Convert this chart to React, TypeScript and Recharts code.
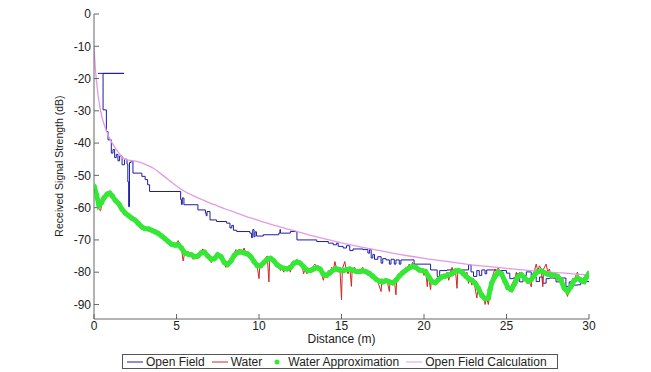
import { LineChart, Line, XAxis, YAxis, Legend, Label } from 'recharts';

// distance (m), signal (dB) pairs
const openField: [number, number][] = [
  [0.24, -18.4], [1.82, -18.4], [0.55, -29.7], [0.75, -36.4], [0.85, -39], [1.05, -43.1],
  [1.15, -42], [1.25, -44.5], [1.35, -43.5], [1.45, -45.5], [1.55, -44], [1.7, -46.7],
  [1.85, -45], [2.0, -46.5], [2.05, -52], [2.1, -59.7], [2.15, -46], [2.25, -45.5],
  [2.36, -49.3], [2.9, -50.3], [3.1, -51.3], [3.25, -52.9], [3.37, -55], [5.25, -57.5],
  [5.3, -59], [5.35, -57], [5.45, -59.1], [6.3, -60.7], [6.75, -61.7], [6.8, -62.5],
  [6.85, -61.2], [7.03, -63.8], [7.43, -64.3], [8.04, -64.8], [8.24, -66.3], [8.35, -65.5],
  [8.45, -67], [8.65, -67.4], [9.45, -67.9], [9.55, -69.3], [9.62, -66.8], [9.7, -69],
  [9.76, -67.5], [9.85, -68.8], [10.26, -68.4], [11.2, -67.9], [11.27, -66.8], [11.3, -67.9],
  [11.9, -67.4], [12.3, -70], [13.5, -70.5], [14.2, -71], [14.5, -71.5], [14.7, -71],
  [14.8, -72], [15.1, -72.5], [15.3, -71.8], [15.5, -73.3], [15.7, -72.8], [16.3, -73],
  [16.6, -74.1], [16.7, -73], [16.8, -75.6], [16.9, -74.5], [17.0, -76], [17.2, -75.2],
  [17.4, -77.2], [17.5, -75.8], [17.7, -76.2], [17.9, -77.5], [18.0, -76], [18.2, -77.5],
  [18.3, -76.2], [18.5, -77.5], [18.6, -76.2], [19.15, -76.2], [19.4, -77.5], [20.4, -79.3],
  [20.8, -81.3], [20.95, -79.5], [21.4, -79.3], [22.6, -79.3], [22.7, -77.7], [22.85, -79.9],
  [23.0, -81.3], [23.2, -79.5], [23.35, -81], [23.5, -79.3], [23.7, -80.5], [23.8, -79.3],
  [24.2, -79.3], [24.4, -81], [24.5, -79.5], [25.0, -80.3], [25.2, -82], [25.4, -81.8],
  [25.6, -80.5], [25.8, -83], [26.0, -81], [26.2, -79.9], [26.5, -81.5], [26.8, -82.9],
  [27.0, -81.5], [27.2, -83.4], [27.4, -82], [27.6, -81.8], [28.0, -83], [28.3, -81.8],
  [28.6, -84.4], [28.8, -83], [29.0, -84], [29.3, -83.9], [29.5, -82.5], [29.8, -82.9],
  [30, -82.9],
];

const water: [number, number][] = [
  [0, -53], [0.1, -55], [0.2, -58], [0.3, -60.5], [0.4, -61], [0.5, -58], [0.6, -57],
  [0.8, -55.5], [1.0, -55], [1.2, -57], [1.4, -58.5], [1.6, -59.5], [1.8, -61.5], [2.0, -62],
  [2.2, -62.5], [2.4, -63.5], [2.6, -64.5], [2.8, -65.5], [3.0, -66], [3.2, -66.2],
  [3.4, -66.8], [3.6, -67], [3.8, -67.8], [4.0, -68.5], [4.2, -69], [4.4, -69.8], [4.6, -70.5],
  [4.8, -72], [4.9, -71], [5.0, -71.2], [5.1, -70.2], [5.2, -72], [5.3, -72.5], [5.4, -76.5],
  [5.5, -74], [5.6, -75], [5.7, -73.5], [5.8, -74.8], [5.9, -74], [6.0, -76], [6.1, -75],
  [6.2, -75.8], [6.35, -74.5], [6.5, -73.5], [6.6, -72.8], [6.7, -74], [6.8, -73.5],
  [6.9, -75.5], [7.0, -76], [7.1, -77], [7.2, -75.5], [7.35, -76], [7.5, -74], [7.6, -74.5],
  [7.75, -75], [7.9, -77.5], [8.0, -78.5], [8.1, -77.5], [8.2, -76.5], [8.35, -75.5],
  [8.5, -74], [8.6, -73], [8.7, -74], [8.8, -72.8], [8.9, -74], [9.0, -73.5], [9.1, -72.5],
  [9.2, -75], [9.3, -74], [9.4, -75], [9.5, -74.5], [9.6, -76], [9.7, -77.5], [9.8, -77],
  [9.9, -78.5], [10.0, -82], [10.05, -78], [10.2, -77.5], [10.3, -76.5], [10.4, -75.5],
  [10.5, -75], [10.6, -83], [10.65, -76], [10.8, -75.5], [10.9, -76.5], [11.0, -77],
  [11.1, -78], [11.2, -77.5], [11.3, -79.5], [11.4, -78.5], [11.5, -80], [11.6, -78.5],
  [11.7, -79.5], [11.8, -78], [11.9, -80], [12.0, -77], [12.1, -76.5], [12.2, -77.5],
  [12.3, -76], [12.4, -77], [12.5, -78], [12.6, -77.2], [12.7, -80.5], [12.8, -79],
  [12.9, -80.5], [13.0, -79], [13.1, -78.8], [13.2, -80], [13.3, -78], [13.4, -77.5],
  [13.5, -79], [13.6, -78], [13.7, -80], [13.8, -80.5], [13.9, -82.5], [14.0, -80.5],
  [14.1, -81.5], [14.2, -79.5], [14.3, -80.5], [14.4, -78.5], [14.5, -79.5], [14.6, -76.7],
  [14.7, -79], [14.8, -80], [14.9, -78.5], [15.0, -88.5], [15.05, -79], [15.2, -76.7],
  [15.3, -79.5], [15.4, -80.5], [15.5, -78.5], [15.6, -84.4], [15.65, -79], [15.8, -78.5],
  [15.9, -80], [16.0, -79], [16.1, -80.5], [16.2, -79], [16.3, -78.5], [16.4, -80],
  [16.5, -79.5], [16.6, -81], [16.7, -80], [16.8, -81.5], [16.9, -80.5], [17.0, -82],
  [17.1, -81.5], [17.2, -83], [17.4, -86], [17.45, -82], [17.6, -83.5], [17.7, -82],
  [17.8, -83.5], [17.9, -86], [17.95, -82.5], [18.1, -84], [18.2, -82.5], [18.3, -87],
  [18.35, -82], [18.5, -80.5], [18.6, -81.5], [18.7, -79.3], [18.8, -80], [18.9, -78.5],
  [19.0, -79], [19.1, -77.5], [19.2, -78.5], [19.3, -77], [19.45, -78.5], [19.6, -79],
  [19.7, -78.5], [19.8, -80], [19.9, -79], [20.0, -81], [20.1, -79.5], [20.2, -84.5],
  [20.25, -80.5], [20.4, -85.4], [20.45, -82], [20.6, -83], [20.7, -84], [20.8, -82],
  [20.9, -83], [21.0, -81], [21.1, -82], [21.2, -80.5], [21.3, -81.5], [21.4, -80],
  [21.5, -82.5], [21.6, -80], [21.7, -78.5], [21.8, -80], [21.9, -79], [22.0, -85],
  [22.05, -80], [22.2, -79], [22.3, -81], [22.4, -79.5], [22.5, -82], [22.6, -80],
  [22.7, -83.5], [22.8, -81.5], [22.9, -84], [23.0, -82], [23.1, -85], [23.2, -88],
  [23.3, -84], [23.4, -86], [23.5, -87.5], [23.6, -86.5], [23.7, -90], [23.8, -88],
  [23.9, -90], [24.0, -86], [24.1, -82], [24.2, -80.5], [24.3, -79], [24.4, -80],
  [24.5, -78.5], [24.6, -80], [24.7, -79.5], [24.8, -82], [24.9, -83], [25.0, -85.5],
  [25.1, -83.5], [25.2, -86], [25.3, -84], [25.4, -83], [25.5, -82], [25.6, -80],
  [25.7, -81.5], [25.8, -80], [25.9, -81], [26.0, -82], [26.1, -81], [26.2, -83], [26.3, -82],
  [26.5, -84.5], [26.55, -81], [26.7, -79.5], [26.8, -77.5], [26.9, -79.5], [27.0, -78],
  [27.1, -79], [27.2, -84.5], [27.25, -79], [27.4, -77.5], [27.5, -80], [27.6, -79],
  [27.7, -81], [27.8, -80], [27.9, -82], [28.0, -80.5], [28.1, -82.5], [28.2, -81],
  [28.3, -83], [28.4, -82], [28.5, -84.5], [28.6, -86], [28.7, -87.5], [28.8, -85],
  [28.9, -84], [29.0, -82], [29.1, -83.5], [29.2, -81], [29.3, -80], [29.4, -82],
  [29.5, -81.5], [29.6, -83.5], [29.7, -81.5], [29.8, -82.5], [29.9, -80.5], [30, -81],
];

const waterApprox: [number, number][] = [
  [0, -53.3], [0.15, -56], [0.3, -59.3], [0.45, -58.5], [0.6, -57], [0.8, -55.8], [0.95, -55.5],
  [1.1, -56.3], [1.3, -57.8], [1.5, -58.8], [1.7, -60.5], [1.9, -61.7], [2.1, -62.5],
  [2.3, -63.3], [2.5, -63.9], [2.7, -65], [2.9, -66], [3.1, -66.5], [3.3, -66.6], [3.5, -67],
  [3.7, -67.5], [3.9, -68], [4.1, -68.8], [4.3, -69.6], [4.5, -70.5], [4.7, -71.3],
  [4.9, -71.6], [5.1, -71.4], [5.3, -72.5], [5.5, -74], [5.7, -74.4], [5.9, -74.6],
  [6.1, -75.2], [6.3, -75], [6.5, -74], [6.7, -73.8], [6.9, -75], [7.1, -76], [7.3, -75.8],
  [7.5, -74.6], [7.7, -75.2], [7.9, -77], [8.1, -77.6], [8.3, -76.5], [8.5, -74.8],
  [8.7, -73.9], [8.9, -73.7], [9.1, -74], [9.3, -74.3], [9.5, -75.2], [9.7, -76.7], [9.9, -78],
  [10.1, -78], [10.3, -77], [10.5, -76], [10.7, -75.7], [10.9, -76.5], [11.1, -77.7],
  [11.3, -78.4], [11.5, -78.8], [11.7, -79], [11.9, -78.6], [12.1, -77.3], [12.3, -76.8],
  [12.5, -77.2], [12.7, -78.3], [12.9, -79.3], [13.1, -79.5], [13.3, -79], [13.5, -78.6],
  [13.7, -79], [13.9, -80.6], [14.1, -81], [14.3, -80.2], [14.5, -79.3], [14.7, -79],
  [14.9, -79.3], [15.1, -79.5], [15.3, -79.2], [15.5, -79], [15.7, -79.4], [15.9, -79.8],
  [16.1, -79.8], [16.3, -79.6], [16.5, -79.9], [16.7, -80.4], [16.9, -81.3], [17.1, -82.2],
  [17.3, -82.8], [17.5, -83], [17.7, -82.6], [17.9, -83], [18.1, -83.3], [18.3, -82.5],
  [18.5, -81.2], [18.7, -80.2], [18.9, -79.4], [19.1, -78.7], [19.3, -78.2], [19.5, -78.5],
  [19.7, -79.3], [19.9, -79.5], [20.1, -79.8], [20.3, -81.5], [20.5, -83], [20.7, -83.2],
  [20.9, -82.2], [21.1, -81.4], [21.3, -81.2], [21.5, -80.8], [21.7, -80.5], [21.9, -79.6],
  [22.1, -79.5], [22.3, -80], [22.5, -81], [22.7, -82], [22.9, -82.5], [23.1, -83.4],
  [23.3, -85], [23.5, -87.2], [23.7, -88.2], [23.9, -88], [24.0, -85.5], [24.1, -83.4],
  [24.3, -81.3], [24.5, -80], [24.7, -80.5], [24.9, -82.8], [25.1, -84.8], [25.3, -85.4],
  [25.5, -83.5], [25.7, -81.3], [25.9, -80.8], [26.1, -81.8], [26.3, -82.8], [26.5, -82.3],
  [26.7, -80.8], [26.9, -79.8], [27.1, -79.6], [27.3, -80.2], [27.5, -80.6], [27.7, -80.8],
  [27.9, -81], [28.1, -81.3], [28.3, -82.5], [28.5, -85], [28.7, -86], [28.9, -84.5],
  [29.1, -82.6], [29.3, -81.8], [29.5, -82.5], [29.7, -82.9], [29.85, -81.5], [30, -80.3],
];

const openFieldCalc: [number, number][] = [
  [0, -10], [0.1, -18], [0.2, -23], [0.3, -27], [0.4, -30], [0.5, -32.3], [0.7, -35.5],
  [0.9, -38], [1.2, -40.8], [1.5, -43], [1.8, -44.8], [2.1, -45.3], [2.5, -45.6], [2.8, -46],
  [3.2, -46.8], [3.6, -47.8], [4.0, -49.3], [4.5, -51.3], [5.0, -53.3], [5.5, -55], [6, -56.3],
  [6.5, -57.4], [7, -58.5], [7.5, -59.5], [8, -60.5], [8.5, -61.4], [9, -62.3], [9.5, -63.2],
  [10, -64], [11, -65.6], [12, -67], [13, -68.4], [14, -69.7], [15, -70.9], [16, -72],
  [17, -73], [18, -74], [19, -74.9], [20, -75.7], [21, -76.4], [22, -77.1], [23, -77.8],
  [24, -78.3], [25, -78.8], [26, -79.3], [27, -79.7], [28, -80.1], [29, -80.5], [30, -80.8],
];

const seriesNames = ['Open Field', 'Water', 'Water Approximation', 'Open Field Calculation'];
const xTicks = [0, 5, 10, 15, 20, 25, 30];
const yTicks = [-90, -80, -70, -60, -50, -40, -30, -20, -10, 0];

const toPts = (arr: [number, number][]) => arr.map(([x, y]) => ({ x, y }));

const FONT = '"Liberation Sans", Arial, sans-serif';
const AXIS = '#666';
const GREEN = '#35e835';

function LegendBox({ payload }: any) {
  // keep the plotting order instead of recharts' alphabetical sort
  const items = [...(payload || [])].sort(
    (a: any, b: any) => seriesNames.indexOf(a.value) - seriesNames.indexOf(b.value)
  );
  return (
    <div style={{ height: 18 }}>
      <div
        style={{
          height: 15,
          boxSizing: 'border-box',
          border: '1px solid #555',
          display: 'flex',
          alignItems: 'center',
          fontFamily: FONT,
          fontSize: 12,
          color: '#222',
          paddingLeft: 3,
          whiteSpace: 'nowrap',
          overflow: 'visible',
        }}
      >
        {items.map((p: any) => (
          <div
            key={p.value}
            style={{ display: 'flex', alignItems: 'center', marginRight: 6, flexShrink: 0 }}
          >
            <svg width={18} height={10} style={{ marginRight: 2, flexShrink: 0 }}>
              {p.type === 'circle' ? (
                <circle cx={9} cy={5} r={2.5} fill={p.color} />
              ) : (
                <line x1={1} y1={5} x2={17} y2={5} stroke={p.color} strokeWidth={1} />
              )}
            </svg>
            <span style={{ whiteSpace: 'nowrap' }}>{p.value}</span>
          </div>
        ))}
      </div>
    </div>
  );
}

export default function App() {
  return (
    <div style={{ position: 'absolute', left: 0, top: 0, background: '#fff' }}>
      <LineChart width={651} height={372} margin={{ top: 14, right: 62, left: 0, bottom: 0 }}>
        <XAxis
          xAxisId="b"
          type="number"
          dataKey="x"
          domain={[0, 30]}
          ticks={xTicks}
          allowDataOverflow
          height={35}
          tickSize={-5}
          tickMargin={7}
          stroke={AXIS}
          tick={{ fill: '#222', fontSize: 12, fontFamily: FONT }}
        >
          <Label
            value="Distance (m)"
            position="insideBottom"
            offset={11}
            style={{ fill: '#222', fontSize: 12, fontFamily: FONT }}
          />
        </XAxis>
        <XAxis
          xAxisId="t"
          orientation="top"
          type="number"
          dataKey="x"
          domain={[0, 30]}
          ticks={xTicks}
          allowDataOverflow
          height={0}
          tickSize={-5}
          stroke={AXIS}
          tickFormatter={() => ''}
        />
        <YAxis
          yAxisId="l"
          type="number"
          domain={[-94.5, 0]}
          ticks={yTicks}
          allowDataOverflow
          width={94}
          tickSize={-5}
          tickMargin={8}
          stroke={AXIS}
          tick={{ fill: '#222', fontSize: 12, fontFamily: FONT }}
        >
          <Label
            content={() => (
              <text
                x={59}
                y={166}
                transform="rotate(-90 59 166)"
                textAnchor="middle"
                dominantBaseline="central"
                style={{ fill: '#222', fontSize: 10.5, fontFamily: FONT }}
              >
                Received Signal Strength (dB)
              </text>
            )}
          />
        </YAxis>
        <YAxis
          yAxisId="r"
          orientation="right"
          type="number"
          domain={[-94.5, 0]}
          ticks={yTicks}
          allowDataOverflow
          width={0}
          tickSize={-5}
          stroke={AXIS}
          tickFormatter={() => ''}
        />
        <Legend
          verticalAlign="bottom"
          content={<LegendBox />}
          wrapperStyle={{ left: 122, width: 436, bottom: 0 }}
        />
        <Line
          xAxisId="b"
          yAxisId="l"
          data={toPts(openField)}
          dataKey="y"
          name={seriesNames[0]}
          type="stepAfter"
          stroke="#1c1ca8"
          strokeWidth={1}
          dot={false}
          legendType="line"
          isAnimationActive={false}
        />
        <Line
          xAxisId="b"
          yAxisId="l"
          data={toPts(water)}
          dataKey="y"
          name={seriesNames[1]}
          type="linear"
          stroke="#d22626"
          strokeWidth={1}
          dot={false}
          legendType="line"
          isAnimationActive={false}
        />
        <Line
          xAxisId="b"
          yAxisId="l"
          data={toPts(waterApprox)}
          dataKey="y"
          name={seriesNames[2]}
          type="linear"
          stroke={GREEN}
          strokeWidth={5}
          dot={{ r: 2.2, fill: GREEN, stroke: GREEN, strokeWidth: 1 }}
          legendType="circle"
          isAnimationActive={false}
        />
        <Line
          xAxisId="b"
          yAxisId="l"
          data={toPts(openFieldCalc)}
          dataKey="y"
          name={seriesNames[3]}
          type="monotone"
          stroke="#e39ae3"
          strokeWidth={1.3}
          dot={false}
          legendType="line"
          isAnimationActive={false}
        />
      </LineChart>
    </div>
  );
}
